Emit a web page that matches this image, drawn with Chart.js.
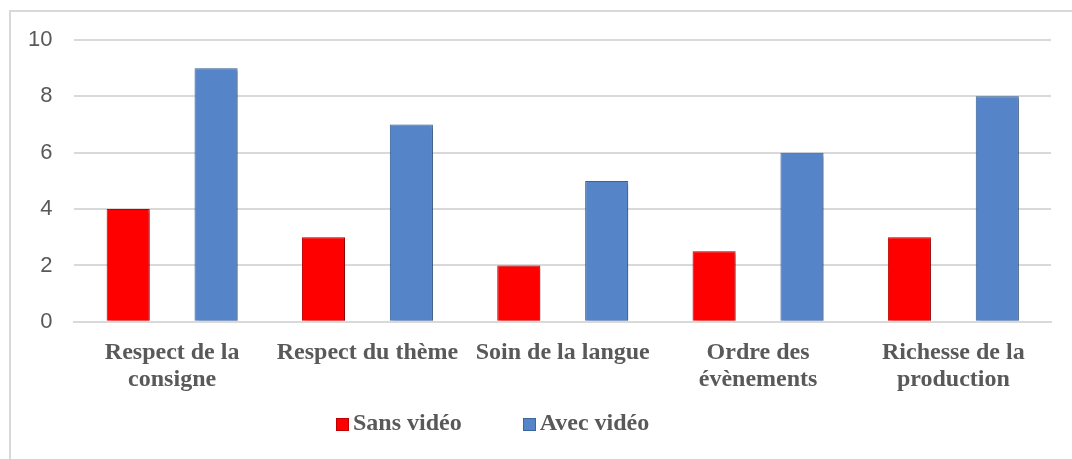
<!DOCTYPE html>
<html>
<head>
<meta charset="utf-8">
<script src="https://cdn.jsdelivr.net/npm/chart.js@4/dist/chart.umd.min.js"></script>
<style>
  html, body { margin: 0; padding: 0; background: #fff; }
  body { width: 1072px; height: 459px; position: relative; overflow: hidden; }
  /* outer frame, only left and top edges are visible in the window */
  #frame { position: absolute; left: 9px; top: 10px; width: 1100px; height: 500px;
           border-left: 2px solid #d9d9d9; border-top: 2px solid #d9d9d9; box-sizing: border-box; }
  #wrap { position: absolute; left: 0; top: 0; width: 1072px; height: 415px; }
  #legend { position: absolute; left: 336px; top: 410px; display: flex;
            font: bold 24px "Liberation Serif", "Times New Roman", serif; color: #595959; line-height: 24px; }
  #legend .item { display: flex; align-items: center; margin-right: 61px; }
  #legend .box { width: 13px; height: 13px; margin-right: 4px; margin-top: 4px; box-sizing: border-box; }
</style>
</head>
<body>
<div id="frame"></div>
<div id="wrap"><canvas id="chart"></canvas></div>
<div id="legend"></div>
<script>
// ── Data ──────────────────────────────────────────────────────
const categories = [
  ['Respect de la', 'consigne'],
  'Respect du thème',
  'Soin de la langue',
  ['Ordre des', 'évènements'],
  ['Richesse de la', 'production']
];
const seriesNames = ['Sans vidéo', 'Avec vidéo'];
const sansVideo = [4, 3, 2, 2.5, 3];
const avecVideo = [9, 7, 5, 6, 8];
const yTicks = [0, 2, 4, 6, 8, 10];

const colors = {
  red: '#ff0000', redEdge: '#c00000',
  blue: '#5585c8', blueEdge: '#3b669f',
  grid: '#d9d9d9', text: '#595959'
};

// ── Soft shadow behind the bars ───────────────────────────────
const barShadow = {
  id: 'barShadow',
  beforeDatasetsDraw(chart) {
    const ctx = chart.ctx;
    ctx.save();
    ctx.shadowColor = 'rgba(0,0,0,0.35)';
    ctx.shadowBlur = 4;
    ctx.shadowOffsetX = 2;
    ctx.shadowOffsetY = 2;
  },
  afterDatasetsDraw(chart) { chart.ctx.restore(); }
};

const chart = new Chart(document.getElementById('chart'), {
  type: 'bar',
  data: {
    labels: categories,
    datasets: [
      { label: seriesNames[0], data: sansVideo, backgroundColor: colors.red,
        borderColor: colors.redEdge, borderWidth: 1 },
      { label: seriesNames[1], data: avecVideo, backgroundColor: colors.blue,
        borderColor: colors.blueEdge, borderWidth: 1 }
    ]
  },
  options: {
    responsive: true,
    maintainAspectRatio: false,
    animation: false,
    layout: { padding: { left: 6, right: 21, top: 40, bottom: 12 } },
    datasets: { bar: { categoryPercentage: 0.9, barPercentage: 0.49 } },
    plugins: { legend: { display: false }, tooltip: { enabled: false } },
    scales: {
      x: {
        grid: { display: false },
        border: { color: colors.grid, width: 2 },
        ticks: {
          color: colors.text, padding: 9, maxRotation: 0, autoSkip: false,
          font: { family: '"Liberation Serif", "Times New Roman", serif', size: 24, weight: 'bold', lineHeight: 1.15 }
        }
      },
      y: {
        min: 0, max: 10,
        afterBuildTicks(axis) { axis.ticks = yTicks.map(v => ({ value: v })); },
        grid: { color: colors.grid, lineWidth: 2, drawTicks: false },
        border: { display: false },
        ticks: {
          color: colors.text, padding: 22,
          font: { family: '"Liberation Sans", Arial, sans-serif', size: 22 }
        }
      }
    }
  },
  plugins: [barShadow]
});

// ── Legend (HTML, built from the datasets) ────────────────────
const legendEl = document.getElementById('legend');
chart.data.datasets.forEach(ds => {
  const item = document.createElement('div');
  item.className = 'item';
  item.innerHTML = `<span class="box" style="background:${ds.backgroundColor};border:1px solid ${ds.borderColor}"></span>${ds.label}`;
  legendEl.appendChild(item);
});
</script>
</body>
</html>
